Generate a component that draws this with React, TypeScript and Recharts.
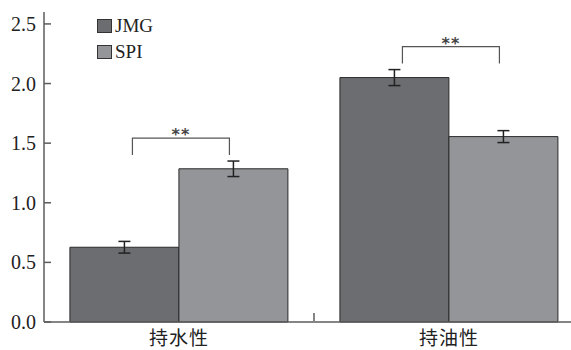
import { Bar, BarChart, ErrorBar, Legend, XAxis, YAxis } from "recharts"

const categories = ["持水性", "持油性"]
const jmg = [0.627, 2.05]
const jmgErr = [0.049, 0.067]
const spi = [1.285, 1.555]
const spiErr = [0.065, 0.05]
const signif = ["**", "**"]
const yTicks = [0, 0.5, 1.0, 1.5, 2.0, 2.5]

const seriesNames = ["JMG", "SPI"]
const colors = ["#6c6d71", "#949599"]

const data = categories.map((name, i) => ({
  name,
  JMG: jmg[i],
  jmgErr: jmgErr[i],
  SPI: spi[i],
  spiErr: spiErr[i],
}))

const serif = "'Liberation Serif', 'Times New Roman', serif"
const cjk = "'Noto Sans CJK SC', 'Noto Sans', sans-serif"
const axisColor = "#5c5c5c"

// category label plus the small inward tick between the two groups
const CategoryTick = (props: any) => {
  const { x, y, payload, index } = props
  const off = payload?.offset ?? 0
  return (
    <g>
      <text
        x={x}
        y={y}
        dy="0.71em"
        textAnchor="middle"
        fontFamily={cjk}
        fontSize={19}
        fill="#222"
        letterSpacing={1}
      >
        {payload.value}
      </text>
      {index < categories.length - 1 && (
        <line
          x1={x + off}
          x2={x + off}
          y1={y - 11}
          y2={y - 19}
          stroke={axisColor}
          strokeWidth={1.5}
        />
      )}
    </g>
  )
}

const ValueTick = (props: any) => {
  const { x, y, payload } = props
  return (
    <text x={x} y={y} dy="0.35em" textAnchor="end" fontFamily={serif} fontSize={20} fill="#222">
      {Number(payload.value).toFixed(1)}
    </text>
  )
}

// significance bracket drawn above each pair, hung on the SPI bar
const Bracket = (props: any) => {
  const { x, y, width, height, index } = props
  if (height == null || !spi[index]) return null
  const base = y + height
  const unit = height / spi[index]
  const top = Math.max(jmg[index] + jmgErr[index], spi[index] + spiErr[index])
  const legY = base - top * unit - 6
  const barY = legY - 17
  const x1 = x - width / 2 + 8
  const x2 = x + width / 2 - 4
  return (
    <g>
      <path
        d={`M${x1},${legY}V${barY}H${x2}V${legY}`}
        stroke="#555"
        strokeWidth={1.2}
        fill="none"
      />
      <text
        x={(x1 + x2) / 2}
        y={barY + 2}
        textAnchor="middle"
        fontFamily="'DejaVu Sans', sans-serif"
        fontWeight="bold"
        fontSize={16}
        letterSpacing={1}
        fill="#444"
      >
        {signif[index]}
      </text>
    </g>
  )
}

const LegendBox = () => (
  <div style={{ fontFamily: serif, fontSize: 19, color: "#222", lineHeight: "26px" }}>
    {seriesNames.map((n, i) => (
      <div key={n} style={{ display: "flex", alignItems: "center", height: 26 }}>
        <span
          style={{
            display: "inline-block",
            width: 13,
            height: 12,
            background: colors[i],
            border: "1px solid #333",
            marginRight: 3,
          }}
        />
        {n}
      </div>
    ))}
  </div>
)

export default function App() {
  return (
    <div style={{ position: "absolute", left: 0, top: 0, width: 571, height: 350, overflow: "hidden", background: "#fff" }}>
      <BarChart
        width={600}
        height={350}
        data={data}
        margin={{ top: 12, right: 16, bottom: 0, left: 0 }}
        barCategoryGap="9.6%"
        barGap={0}
      >
        <XAxis
          dataKey="name"
          height={28}
          tickSize={0}
          tickLine={false}
          tickMargin={10}
          tick={<CategoryTick />}
          axisLine={{ stroke: axisColor, strokeWidth: 1.5 }}
        />
        <YAxis
          width={44}
          domain={[0, 2.6]}
          ticks={yTicks}
          tickSize={-7}
          tickMargin={15}
          tickLine={{ stroke: axisColor, strokeWidth: 1.5 }}
          axisLine={{ stroke: axisColor, strokeWidth: 1.5 }}
          tick={<ValueTick />}
        />
        <Legend
          verticalAlign="middle"
          align="center"
          layout="vertical"
          content={<LegendBox />}
          wrapperStyle={{ top: 13, left: 97, width: 100 }}
        />
        <Bar dataKey="JMG" fill={colors[0]} stroke="#2a2a2a" strokeWidth={1} isAnimationActive={false}>
          <ErrorBar dataKey="jmgErr" width={6} stroke="#222" strokeWidth={1.5} />
        </Bar>
        <Bar dataKey="SPI" fill={colors[1]} stroke="#2a2a2a" strokeWidth={1} isAnimationActive={false} label={<Bracket />}>
          <ErrorBar dataKey="spiErr" width={6} stroke="#222" strokeWidth={1.5} />
        </Bar>
      </BarChart>
    </div>
  )
}
